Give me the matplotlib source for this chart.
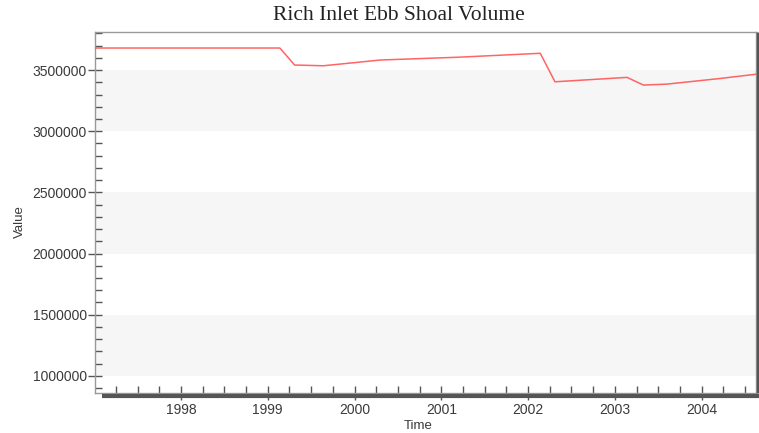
import matplotlib
matplotlib.use("Agg")
import matplotlib.pyplot as plt
from matplotlib.ticker import MultipleLocator, FuncFormatter
from matplotlib.transforms import ScaledTranslation

# shoal volume time series (decimal year, cubic metres)
years = [1997.02, 1999.14, 1999.31, 1999.64, 2000.30, 2001.20, 2002.14,
         2002.31, 2003.14, 2003.33, 2003.60, 2004.20, 2004.64]
volume = [3680000, 3680000, 3541000, 3535000, 3582000, 3605000, 3637000,
          3404000, 3440000, 3377000, 3385000, 3430000, 3467000]

year_ticks = [1998, 1999, 2000, 2001, 2002, 2003, 2004]
band_ranges = [(1000000, 1500000), (2000000, 2500000), (3000000, 3500000)]

fig = plt.figure(figsize=(7.59, 4.33), dpi=100)
ax = fig.add_axes([95 / 759, 1 - 393 / 433, 661 / 759, 361 / 433])

for lo, hi in band_ranges:
    ax.axhspan(lo, hi, color="#f6f6f6", lw=0, zorder=0)

ax.plot(years, volume, color="#ff4a4a", lw=1.1, alpha=0.85, zorder=3)

ax.set_xlim(1997.01, 2004.626)
ax.set_ylim(860000, 3811000)

ax.set_xticks(year_ticks)
ax.xaxis.set_major_formatter(FuncFormatter(lambda v, p: "%d" % v))
ax.xaxis.set_minor_locator(MultipleLocator(0.25))
ax.yaxis.set_major_locator(MultipleLocator(500000))
ax.yaxis.set_minor_locator(MultipleLocator(100000))
ax.yaxis.set_major_formatter(FuncFormatter(lambda v, p: "%d" % v))

ax.tick_params(axis="both", which="major", direction="inout", length=10,
               width=1, color="#555555", labelsize=10, labelcolor="#3a3a3a")
ax.tick_params(axis="both", which="minor", direction="in", length=5,
               width=1, color="#555555")
ax.tick_params(axis="x", which="major", pad=2)
ax.tick_params(axis="y", which="major", pad=1)
for lbl in ax.get_xticklabels() + ax.get_yticklabels():
    lbl.set_family("Liberation Sans")

for side in ["left", "top", "bottom", "right"]:
    ax.spines[side].set_color("#9a9a9a")
    ax.spines[side].set_linewidth(1)

# drop shadow along the bottom and right edges
shift = ScaledTranslation(3 / 100, -3 / 100, fig.dpi_scale_trans)
ax.plot([0.006, 1.0], [0, 0], transform=ax.transAxes + shift, color="#555555",
        lw=3, clip_on=False, solid_capstyle="butt", zorder=5)
ax.plot([1.0, 1.0], [0.0, 1.0], transform=ax.transAxes + ScaledTranslation(2 / 100, 0, fig.dpi_scale_trans),
        color="#555555", lw=2.5, clip_on=False, solid_capstyle="butt", zorder=5)

fig.text(399 / 759, 1 - 16 / 433, "Rich Inlet Ebb Shoal Volume", ha="center", va="center",
         family="Liberation Serif", fontsize=15.5, color="#222222")
fig.text(418 / 759, 1 - 426 / 433, "Time", ha="center", va="center",
         family="Liberation Sans", fontsize=9.5, color="#3a3a3a")
fig.text(20 / 759, 1 - 222 / 433, "Value", ha="center", va="center", rotation=90,
         family="Liberation Sans", fontsize=9.5, color="#3a3a3a")

fig.savefig("out.png", dpi=100)
